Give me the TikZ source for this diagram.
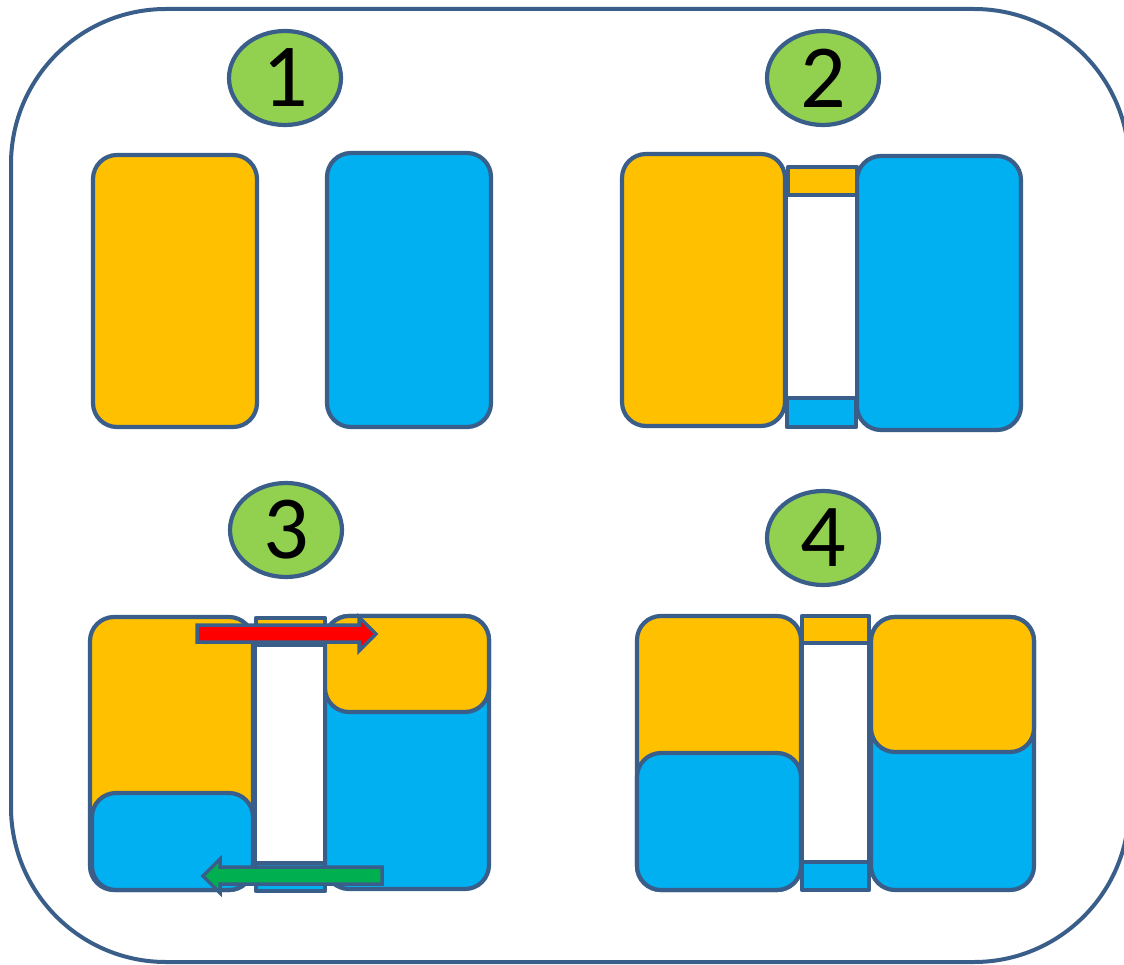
\documentclass[tikz,border=0pt]{standalone}
\usepackage{fontspec}
\newfontfamily\digitfont{Carlito}
\definecolor{edge}{RGB}{58,94,138}
\definecolor{gold}{RGB}{255,192,0}
\definecolor{sky}{RGB}{0,176,240}
\definecolor{lime}{RGB}{146,208,80}
\definecolor{arrred}{RGB}{255,0,0}
\definecolor{arrgreen}{RGB}{0,176,80}
\tikzset{
  x=1pt, y=-1pt,
  frame/.style={draw=edge, line width=4pt, rounded corners=155pt},
  tank/.style={draw=edge, line width=4.2pt, rounded corners=24pt},
  pipe/.style={draw=edge, line width=4.2pt, line join=round},
  badge/.style={ellipse, draw=edge, line width=4.2pt, fill=lime, minimum width=112pt, minimum height=94pt, inner sep=0pt, font=\digitfont\fontsize{90}{90}\selectfont},
  flow/.style={draw=edge, line width=3.5pt, line join=miter},
}
\usetikzlibrary{shapes.geometric}
\begin{document}
\begin{tikzpicture}
\useasboundingbox (0,0) rectangle (1124,965);
\clip (0,0) rectangle (1124,965);
% outer frame
\draw[frame] (11,9) rectangle (1129,962);

% ---- panel 1
\node[badge] (b1) at (285,78) {1};
\draw[tank, fill=gold] (93,155) rectangle (257,427);
\draw[tank, fill=sky] (327,153) rectangle (491,427);

% ---- panel 2
\node[badge] (b2) at (823,78) {2};
\draw[tank, fill=gold] (622,154) rectangle (785,426);
\draw[tank, fill=sky] (857,156) rectangle (1021,430);
\draw[pipe, fill=white] (786,195) rectangle (857,398);
\draw[pipe, fill=gold] (788,167) rectangle (857,195);
\draw[pipe, fill=sky] (787,398) rectangle (856,427);

% ---- panel 3
\node[badge] (b3) at (286,530) {3};
\draw[tank, fill=gold] (90,617) rectangle (253,890);
\draw[tank, fill=sky] (92,793) rectangle (253,890);
\draw[tank, fill=sky] (325,616) rectangle (489,889);
\draw[tank, fill=gold] (325,616) rectangle (489,712);
\draw[pipe, fill=white] (255,645) rectangle (325,863);
\draw[pipe, fill=gold] (256,618) rectangle (325,645);
\draw[pipe, fill=sky] (256,863) rectangle (325,891);
% red flow arrow
\draw[flow, fill=arrred] (197,625) -- (359,625) -- (359,617) -- (376,634) -- (359,651) -- (359,642) -- (197,642) -- cycle;
% green flow arrow
\draw[flow, fill=arrgreen] (382,867) -- (220,867) -- (220,859) -- (203,876) -- (220,893) -- (220,884) -- (382,884) -- cycle;

% ---- panel 4
\node[badge] (b4) at (823,538) {4};
\draw[tank, fill=gold] (637,616) rectangle (801,890);
\draw[tank, fill=sky] (637,753) rectangle (801,890);
\draw[tank, fill=sky] (871,617) rectangle (1034,890);
\draw[tank, fill=gold] (871,617) rectangle (1034,752);
\draw[pipe, fill=white] (802,643) rectangle (869,862);
\draw[pipe, fill=gold] (802,616) rectangle (869,643);
\draw[pipe, fill=sky] (802,862) rectangle (869,890);
\end{tikzpicture}
\end{document}
